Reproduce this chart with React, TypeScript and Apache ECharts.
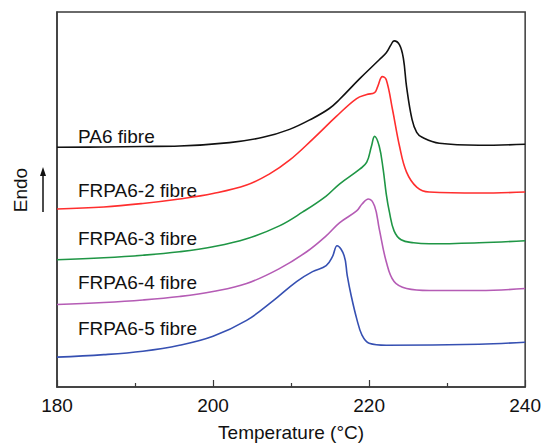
import React, { useEffect, useRef } from "react";
import * as echarts from "echarts";

// Temperature (°C) vs heat flow (arbitrary, endo up)
const pa6: [number, number][] = [
  [180, 241], [186, 241.3], [191, 241.8], [195.7, 242.3], [202.1, 245.7], [206.4, 251],
  [209.8, 259], [212.75, 270], [214.9, 280], [216.2, 289], [218.8, 310], [221.3, 329],
  [222.2, 336], [222.8, 344], [223.2, 348], [223.9, 344], [224.4, 330], [224.8, 302],
  [225.5, 269], [226.1, 256], [226.8, 251], [229.0, 245], [234.1, 243], [240, 244],
];
const frpa2: [number, number][] = [
  [180, 179], [186, 181], [191, 184.5], [195.7, 189], [200, 194.5], [204.3, 203],
  [207.2, 214], [209.8, 228], [212.75, 249], [215.8, 272], [218.4, 290], [219.7, 294],
  [220.7, 296], [221.1, 302], [221.7, 312], [222.2, 309], [223.0, 279], [223.9, 242],
  [224.8, 216], [226.1, 201], [227.7, 196], [234.1, 195], [240, 196],
];
const frpa3: [number, number][] = [
  [180, 128], [186, 130], [191, 132.5], [195.7, 136], [200, 141], [204.3, 149],
  [208.5, 162], [211.5, 176], [214.5, 192], [216.2, 204], [218.8, 219], [219.7, 226],
  [220.3, 242], [220.7, 252], [221.3, 242], [221.8, 219], [222.2, 194], [222.6, 176],
  [223.2, 157], [224.1, 148], [225.7, 145], [227.7, 144], [234.1, 145], [240, 147],
];
const frpa4: [number, number][] = [
  [180, 83], [186, 85], [191, 87.5], [195.7, 91], [200, 96], [204.3, 104],
  [208.5, 119], [212.0, 136], [214.5, 152], [216.2, 165], [218.4, 177], [219.1, 184],
  [219.9, 189], [220.7, 182], [221.3, 159], [222.2, 126], [223.2, 106], [224.8, 99],
  [227.7, 97], [234.1, 97], [240, 99],
];
const frpa5: [number, number][] = [
  [180, 30], [186, 32.5], [191, 36], [195.7, 42], [200, 51], [204.3, 67],
  [207.6, 86], [210.7, 106], [212.75, 116], [214.5, 122], [215.3, 131], [215.9, 142],
  [216.8, 132], [217.2, 112], [217.7, 92], [218.4, 69], [219.1, 52], [220.0, 44],
  [222.2, 42], [234.1, 43], [240, 45],
];

const seriesNames = ["PA6 fibre", "FRPA6-2 fibre", "FRPA6-3 fibre", "FRPA6-4 fibre", "FRPA6-5 fibre"];
const seriesData = [pa6, frpa2, frpa3, frpa4, frpa5];
const seriesColors = ["#111111", "#ff2e2e", "#1f9645", "#b55cb5", "#3650b2"];
const labelY = [136, 190, 238, 282, 328];
const xTicks = [180, 200, 220, 240];

const FONT = 'Arial, "Liberation Sans", sans-serif';

export default function App() {
  const ref = useRef<HTMLDivElement>(null);
  useEffect(() => {
    if (!ref.current) return;
    const chart = echarts.init(ref.current, undefined, { renderer: "svg" });
    chart.setOption({
      animation: false,
      backgroundColor: "#ffffff",
      grid: {
        left: 57, right: 18, top: 12, bottom: 58,
        show: true, borderColor: "#3a3a3a", borderWidth: 1.5,
      },
      xAxis: {
        type: "value",
        min: xTicks[0],
        max: xTicks[xTicks.length - 1],
        interval: 20,
        name: "Temperature (°C)",
        nameLocation: "middle",
        nameGap: 36,
        nameTextStyle: { fontSize: 19, color: "#111", fontFamily: FONT },
        axisLine: { show: true, onZero: false, lineStyle: { color: "#3a3a3a", width: 1.5 } },
        axisTick: { show: true, inside: true, length: 7, lineStyle: { color: "#3a3a3a", width: 1.2 } },
        minorTick: { show: true, splitNumber: 2, length: 4, lineStyle: { color: "#3a3a3a", width: 1.2 } },
        axisLabel: { fontSize: 19, color: "#111", fontFamily: FONT, margin: 9 },
        splitLine: { show: false },
      },
      yAxis: {
        type: "value",
        min: 0,
        max: 377,
        axisLine: { show: true, lineStyle: { color: "#3a3a3a", width: 1.5 } },
        axisTick: { show: false },
        axisLabel: { show: false },
        splitLine: { show: false },
      },
      series: seriesData.map((d, i) => ({
        type: "line",
        name: seriesNames[i],
        data: d,
        showSymbol: false,
        smooth: 0.4,
        lineStyle: { color: seriesColors[i], width: 1.6 },
      })),
      graphic: [
        ...seriesNames.map((n, i) => ({
          type: "text",
          x: 78,
          y: labelY[i],
          style: {
            text: n, fontSize: 19, fill: "#111", fontFamily: FONT,
            verticalAlign: "middle", align: "left",
          },
        })),
        {
          type: "text",
          x: 20,
          y: 190,
          rotation: Math.PI / 2,
          style: {
            text: "Endo", fontSize: 19, fill: "#111", fontFamily: FONT,
            align: "center", verticalAlign: "middle",
          },
        },
        {
          type: "line",
          shape: { x1: 43, y1: 212, x2: 43, y2: 174 },
          style: { stroke: "#111", lineWidth: 1.5 },
        },
        {
          type: "polygon",
          shape: { points: [[40, 176], [46, 176], [43, 167]] },
          style: { fill: "#111" },
        },
      ],
    });
    return () => chart.dispose();
  }, []);
  return <div ref={ref} style={{ width: 544, height: 447, position: "absolute", left: 0, top: 0 }} />;
}
